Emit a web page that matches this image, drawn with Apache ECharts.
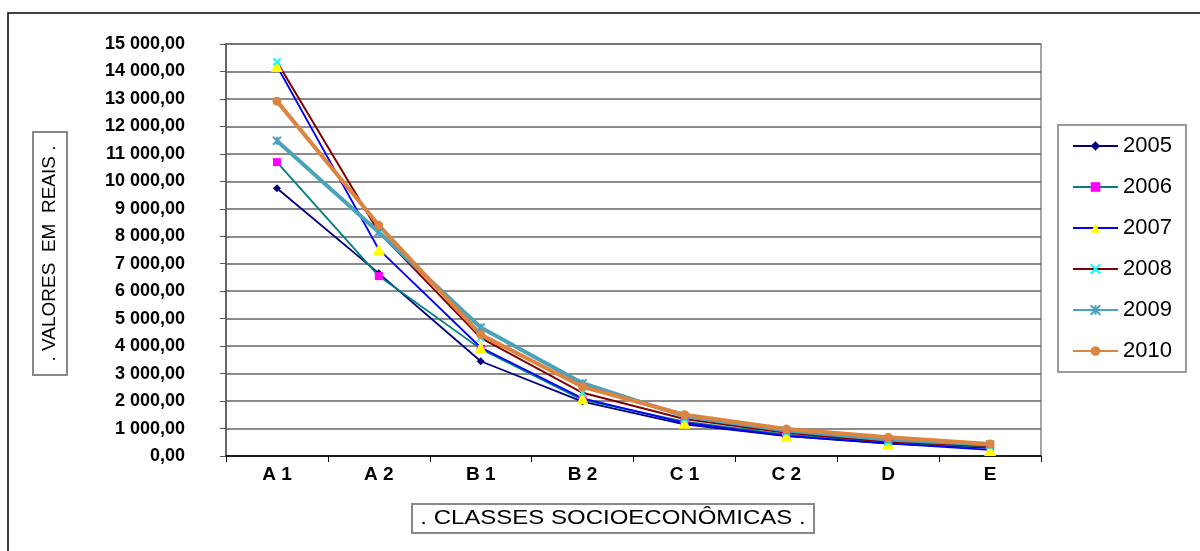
<!DOCTYPE html>
<html>
<head>
<meta charset="utf-8">
<script src="https://cdn.jsdelivr.net/npm/echarts@6/dist/echarts.min.js"></script>
<style>html,body{margin:0;padding:0;background:#fff}#c{width:1200px;height:551px}</style>
</head>
<body>
<div id="c"></div>
<script>
var categories = ['A 1', 'A 2', 'B 1', 'B 2', 'C 1', 'C 2', 'D', 'E'];
var years = ['2005', '2006', '2007', '2008', '2009', '2010'];
var v2005 = [9750, 6650, 3450, 1980, 1150, 720, 450, 300];
var v2006 = [10700, 6550, 3900, 2040, 1250, 780, 500, 330];
var v2007 = [14200, 7520, 3950, 2100, 1210, 730, 460, 220];
var v2008 = [14350, 8150, 4300, 2300, 1350, 850, 520, 360];
var v2009 = [11480, 8150, 4680, 2650, 1450, 930, 600, 420];
var v2010 = [12920, 8400, 4420, 2520, 1500, 980, 680, 440];
var yTitle = '. VALORES  EM  REAIS .';
var xTitle = '. CLASSES SOCIOECONÔMICAS .';

var FONT = '"Liberation Sans", Arial, sans-serif';
var chart = echarts.init(document.getElementById('c'), null, {renderer: 'canvas'});

function fmt(v) {
  var s = Math.round(v).toString();
  s = s.replace(/\B(?=(\d{3})+(?!\d))/g, ' ');
  return s + ',00';
}

var xPath = 'path://M0,0L10,10M10,0L0,10';
var starPath = 'path://M0,0L10,10M10,0L0,10M5,0L5,10';

function mk(name, data, lineColor, lineWidth, symbol, symSize, symColor, stroke) {
  return {
    name: name, type: 'line', data: data,
    symbol: symbol, symbolSize: symSize,
    lineStyle: {color: lineColor, width: lineWidth},
    itemStyle: stroke ? {color: symColor, borderColor: symColor, borderWidth: 2} : {color: symColor, borderWidth: 0},
    color: symColor,
    emphasis: {disabled: true},
    animation: false
  };
}

var series = [
  mk('2005', v2005, '#000080', 1.8, 'diamond', 8, '#000080', false),
  mk('2006', v2006, '#008080', 1.8, 'rect', 8, '#FF00FF', false),
  mk('2007', v2007, '#0000FF', 1.8, 'triangle', 12, '#FFFF00', false),
  mk('2008', v2008, '#800000', 2, xPath, 7, '#00FFFF', true),
  mk('2009', v2009, '#4BA3BB', 4, starPath, 8, '#4BA3BB', true),
  mk('2010', v2010, '#DC8440', 4, 'circle', 9, '#DC8440', false)
];

var option = {
  backgroundColor: '#fff',
  animation: false,
  grid: {left: 226, right: 159, top: 44, bottom: 95, show: true, borderColor: '#888', borderWidth: 1.5, backgroundColor: 'transparent'},
  xAxis: {
    type: 'category', data: categories, boundaryGap: true,
    axisLine: {lineStyle: {color: '#000', width: 1.5}},
    axisTick: {show: true, length: 6, lineStyle: {color: '#000'}},
    axisLabel: {color: '#000', fontFamily: FONT, fontWeight: 'bold', fontSize: 19, margin: 9},
    splitLine: {show: false}
  },
  yAxis: {
    type: 'value', min: 0, max: 15000, interval: 1000,
    axisLine: {show: true, lineStyle: {color: '#555', width: 1.5}},
    axisTick: {show: true, length: 6, lineStyle: {color: '#555'}},
    axisLabel: {color: '#000', fontFamily: FONT, fontWeight: 'bold', fontSize: 18, margin: 41, formatter: fmt},
    splitLine: {show: true, lineStyle: {color: '#666', width: 1.5}}
  },
  legend: {
    orient: 'vertical', left: 1058, top: 125,
    data: years,
    itemWidth: 45, itemHeight: 12, itemGap: 19,
    padding: [10, 14, 10, 14],
    borderColor: '#999', borderWidth: 2,
    textStyle: {color: '#000', fontFamily: FONT, fontSize: 22, lineHeight: 22},
    selectedMode: false
  },
  graphic: [
    {type: 'rect', silent: true, shape: {x: 8, y: 13, width: 1200, height: 600}, style: {fill: 'none', stroke: '#000', lineWidth: 1.5}, z: 100},
    {type: 'rect', silent: true, shape: {x: 33, y: 132, width: 34, height: 243}, style: {fill: '#fff', stroke: '#888', lineWidth: 2}},
    {type: 'text', silent: true, x: 50, y: 253.5, rotation: Math.PI / 2, scaleX: 1.0,
      style: {text: yTitle, fontFamily: FONT, fontSize: 19, fill: '#000', align: 'center', verticalAlign: 'middle'}},
    {type: 'rect', silent: true, shape: {x: 412, y: 504, width: 402, height: 29}, style: {fill: '#fff', stroke: '#888', lineWidth: 2}},
    {type: 'text', silent: true, x: 613, y: 518.5, scaleX: 1.2,
      style: {text: xTitle, fontFamily: FONT, fontSize: 20, fill: '#000', align: 'center', verticalAlign: 'middle'}}
  ],
  series: series
};
chart.setOption(option);
</script>
</body>
</html>
